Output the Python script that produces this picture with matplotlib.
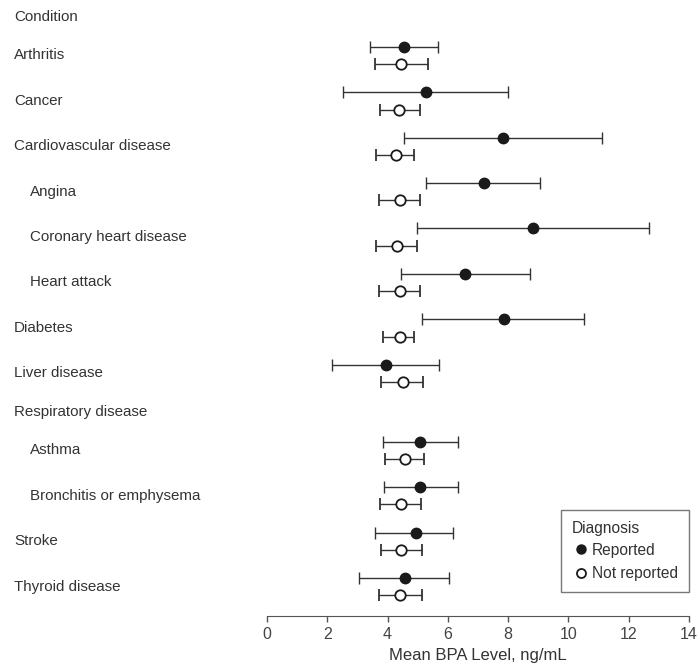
import matplotlib.pyplot as plt
from matplotlib.lines import Line2D
from matplotlib.transforms import blended_transform_factory

plt.rcParams['font.family'] = ['Liberation Sans', 'DejaVu Sans']

# Rows top to bottom; header rows have no data
labels = ["Condition", "Arthritis", "Cancer", "Cardiovascular disease", "Angina",
          "Coronary heart disease", "Heart attack", "Diabetes", "Liver disease",
          "Respiratory disease", "Asthma", "Bronchitis or emphysema", "Stroke",
          "Thyroid disease"]
is_header = [True, False, False, False, False, False, False, False, False,
             True, False, False, False, False]
is_sub = [False, False, False, False, True, True, True, False, False,
          False, True, True, False, False]

# Mean BPA (ng/mL) and 95% CI, diagnosis reported
rep_mean = [4.54, 5.27, 7.83, 7.20, 8.82, 6.58, 7.85, 3.95, 5.07, 5.09, 4.93, 4.57]
rep_lo = [3.40, 2.51, 4.54, 5.27, 4.96, 4.44, 5.14, 2.17, 3.85, 3.89, 3.58, 3.04]
rep_hi = [5.66, 8.00, 11.10, 9.05, 12.68, 8.73, 10.51, 5.72, 6.32, 6.32, 6.18, 6.05]

# diagnosis not reported
not_mean = [4.43, 4.39, 4.28, 4.40, 4.31, 4.40, 4.40, 4.50, 4.57, 4.43, 4.46, 4.42]
not_lo = [3.57, 3.75, 3.62, 3.71, 3.62, 3.71, 3.85, 3.78, 3.93, 3.75, 3.77, 3.73]
not_hi = [5.35, 5.06, 4.86, 5.06, 4.96, 5.06, 4.86, 5.17, 5.20, 5.10, 5.14, 5.14]

# y positions: data rows one slot apart, gaps next to header rows a bit tighter
ypos = []
y = -0.85
for i, h in enumerate(is_header):
    ypos.append(y)
    nxt = is_header[i + 1] if i + 1 < len(is_header) else False
    y += 0.85 if (h or nxt) else 1.0
ypos_data = [p for p, h in zip(ypos, is_header) if not h]

fig = plt.figure(figsize=(6.99, 6.64), dpi=100)
ax = fig.add_axes([0.382, 0.0723, 0.6037, 0.9277])

off = 0.19
text_col = '#333333'
line_col = '#333333'

yr = [p - off for p in ypos_data]
yn = [p + off for p in ypos_data]
ax.errorbar(rep_mean, yr,
            xerr=[[m - l for m, l in zip(rep_mean, rep_lo)],
                  [h - m for m, h in zip(rep_mean, rep_hi)]],
            fmt='o', color='#1a1a1a', ecolor=line_col, elinewidth=1.0,
            capsize=4.5, capthick=1.0, markersize=7.5, zorder=3)
ax.errorbar(not_mean, yn,
            xerr=[[m - l for m, l in zip(not_mean, not_lo)],
                  [h - m for m, h in zip(not_mean, not_hi)]],
            fmt='o', color='#1a1a1a', mfc='white', mec='#1a1a1a', mew=1.3,
            ecolor=line_col, elinewidth=1.0, capsize=4.5, capthick=1.0,
            markersize=7.5, zorder=3)

ax.set_xlim(0, 14)
ax.set_ylim(12.346, -1.222)
ax.set_xticks(range(0, 15, 2))
ax.tick_params(axis='x', direction='out', length=4, width=1, color='#555555',
               labelsize=11.5, labelcolor='#444444', pad=4)
ax.set_yticks([])
for s in ['top', 'right', 'left']:
    ax.spines[s].set_visible(False)
ax.spines['bottom'].set_color('#555555')
ax.set_xlabel("Mean BPA Level, ng/mL", fontsize=12, color=text_col, labelpad=4)

trans = blended_transform_factory(fig.transFigure, ax.transData)
for lab, p, sub in zip(labels, ypos, is_sub):
    xx = 30 / 699 if sub else 14 / 699
    ax.text(xx, p, lab, transform=trans, ha='left', va='center',
            fontsize=10.9, color=text_col, clip_on=False)

handles = [Line2D([], [], marker='o', ls='none', color='#1a1a1a', markersize=6.5),
           Line2D([], [], marker='o', ls='none', mfc='white', mec='#1a1a1a',
                  mew=1.3, markersize=6.5)]
leg = ax.legend(handles, ["Reported", "Not reported"], title="Diagnosis",
                loc='lower right', bbox_to_anchor=(1.0, 0.039), fontsize=11.2,
                title_fontsize=11.2, frameon=True, fancybox=False,
                handletextpad=0.1, borderpad=0.7, labelspacing=0.55,
                handlelength=1.2, borderaxespad=0)
leg._legend_box.align = 'left'
leg._legend_box.sep = 5
leg.get_frame().set_edgecolor('#555555')
leg.get_frame().set_linewidth(1.0)
for t in leg.get_texts():
    t.set_color(text_col)
leg.get_title().set_color(text_col)

fig.savefig('out.png', dpi=100)
